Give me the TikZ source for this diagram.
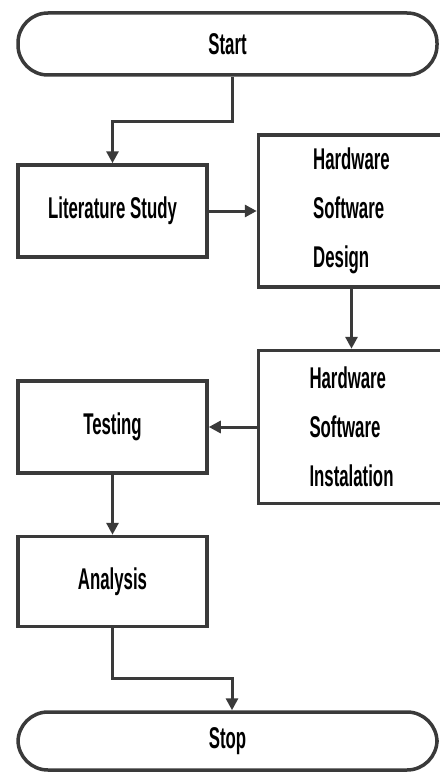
\documentclass[tikz,border=0pt]{standalone}
\usepackage{fontspec}
\setmainfont{Liberation Sans}[FakeStretch=0.56]
\usepackage{tikz}
\usetikzlibrary{positioning, arrows.meta, calc}
\definecolor{cLine}{RGB}{58,58,58}

\begin{document}
\begin{tikzpicture}[x=1pt, y=-1pt, >={Triangle[length=12pt,width=12pt]}, font=\fontsize{30}{49}\selectfont\bfseries]

    \tikzstyle{block} = [draw=cLine, rectangle, line width=3.5pt, minimum width=189pt, minimum height=92pt, text centered, inner sep=0pt]
    \tikzstyle{bigblock} = [block, minimum width=186pt, minimum height=152pt, align=left]
    \tikzstyle{term} = [draw=cLine, rectangle, line width=3.5pt, rounded corners=30pt, minimum width=419pt, inner sep=0pt]
    \tikzstyle{line} = [draw=cLine, line width=3pt]

    \useasboundingbox (0,0) rectangle (439,773);

    % Start and Stop
    \node[term, minimum height=62pt] (start) at (227.5,44) {Start};
    \node[term, minimum height=58pt] (stop) at (227.5,741) {Stop};

    % Left column and right column
    \node[block] (lit) at (112.5,211) {Literature Study};
    \node[bigblock, right=48pt of lit] (design) {Hardware\\Software\\Design};
    \node[bigblock, minimum height=153pt, below=60pt of design] (install) {Hardware\\Software\\Instalation};
    \node[block, left=48pt of install] (test) {Testing};
    \node[block, minimum height=90pt, below=60pt of test] (analysis) {Analysis};

    % Connectors
    \draw[line, ->] ([xshift=4.5pt]start.south) -- ++(0,45) -| (lit.north);
    \draw[line, ->] (lit.east) -- (design.west);
    \draw[line, ->] (design.south) -- (install.north);
    \draw[line, ->] (install.west) -- (test.east);
    \draw[line, ->] (test.south) -- (analysis.north);
    \draw[line, ->] (analysis.south) -- ++(0,50) -| ([xshift=4.5pt]stop.north);
\end{tikzpicture}
\end{document}
